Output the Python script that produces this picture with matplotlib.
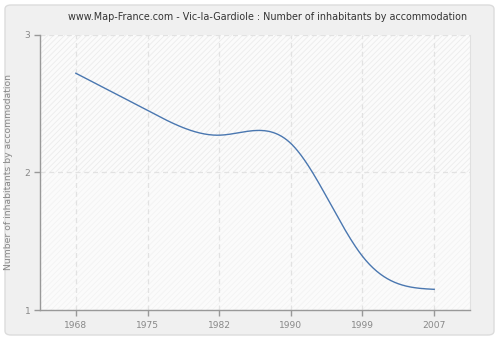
import numpy as np
import matplotlib
matplotlib.use("Agg")
import matplotlib.pyplot as plt
from matplotlib.patches import FancyBboxPatch

years = [1968, 1975, 1982, 1990, 1999, 2007]
values = [2.72, 2.45, 2.27, 2.21, 1.39, 1.15]
x_labels = ["1968", "1975", "1982", "1990", "1999", "2007"]
y_ticks = [1, 2, 3]
title = "www.Map-France.com - Vic-la-Gardiole : Number of inhabitants by accommodation"
ylabel = "Number of inhabitants by accommodation"


def natural_spline(x, y, n=400):
    x = np.asarray(x, float); y = np.asarray(y, float)
    k = len(x); h = np.diff(x)
    A = np.zeros((k, k)); b = np.zeros(k)
    A[0, 0] = A[-1, -1] = 1
    for i in range(1, k - 1):
        A[i, i - 1] = h[i - 1]; A[i, i] = 2 * (h[i - 1] + h[i]); A[i, i + 1] = h[i]
        b[i] = 6 * ((y[i + 1] - y[i]) / h[i] - (y[i] - y[i - 1]) / h[i - 1])
    M = np.linalg.solve(A, b)
    xs = np.linspace(x[0], x[-1], n)
    idx = np.clip(np.searchsorted(x, xs) - 1, 0, k - 2)
    x0, x1 = x[idx], x[idx + 1]; hh = x1 - x0
    ys = (M[idx] * (x1 - xs) ** 3 + M[idx + 1] * (xs - x0) ** 3) / (6 * hh) \
        + (y[idx] / hh - M[idx] * hh / 6) * (x1 - xs) \
        + (y[idx + 1] / hh - M[idx + 1] * hh / 6) * (xs - x0)
    return xs, ys


plt.rcParams['hatch.linewidth'] = 0.6
fig = plt.figure(figsize=(5, 3.4), dpi=100)
fig.patch.set_facecolor("white")
bg = FancyBboxPatch((5 / 500, 5 / 340), 489 / 500, 330 / 340,
                    boxstyle="round,pad=0,rounding_size=0.012",
                    transform=fig.transFigure, facecolor="#f0f0f0",
                    edgecolor="#dcdcdc", linewidth=1.0, zorder=-5)
fig.patches.append(bg)

ax = fig.add_axes([40 / 500, 30 / 340, 430 / 500, 275.3 / 340])
ax.set_zorder(1)
ax.set_facecolor("#fbfbfb")
ax.axhspan(2, 3, facecolor="#fbfbfb", hatch="//////", edgecolor="#ececec", linewidth=0, zorder=0)
ax.axhspan(1, 2, facecolor="#fbfbfb", hatch="//////", edgecolor="#f3f3f3", linewidth=0, zorder=0)

pos = np.arange(len(years))
xs, ys = natural_spline(pos, values)
ax.plot(xs, ys, color="#4a77b0", linewidth=1.0, zorder=3)

ax.set_xlim(-0.5, 5.5)
ax.set_ylim(1, 3)
ax.set_xticks(pos)
ax.set_yticks(y_ticks)
ax.set_xticklabels(x_labels)
ax.set_yticklabels([str(t) for t in y_ticks])
ax.grid(True, color="#e2e2e2", linestyle=(0, (4, 3)), linewidth=0.9, zorder=1)
ax.set_axisbelow(True)

for s in ["left", "bottom"]:
    ax.spines[s].set_color("#999999")
    ax.spines[s].set_linewidth(1.0)
ax.spines["top"].set_visible(False)
ax.spines["right"].set_color("#e0e0e0")
ax.tick_params(axis="both", colors="#999999", labelcolor="#888888", labelsize=6.6,
               length=4, width=1.0, direction="out")
ax.tick_params(axis="x", pad=4)
ax.tick_params(axis="y", pad=3)
ax.set_ylabel(ylabel, color="#888888", fontsize=6.7)
ax.yaxis.set_label_coords(-27 / 430, 0.5)
fig.text(0.535, 1 - 17 / 340, title, ha="center", va="center", fontsize=6.9, color="#333333")

fig.savefig("out.png", dpi=100, facecolor=fig.get_facecolor())
